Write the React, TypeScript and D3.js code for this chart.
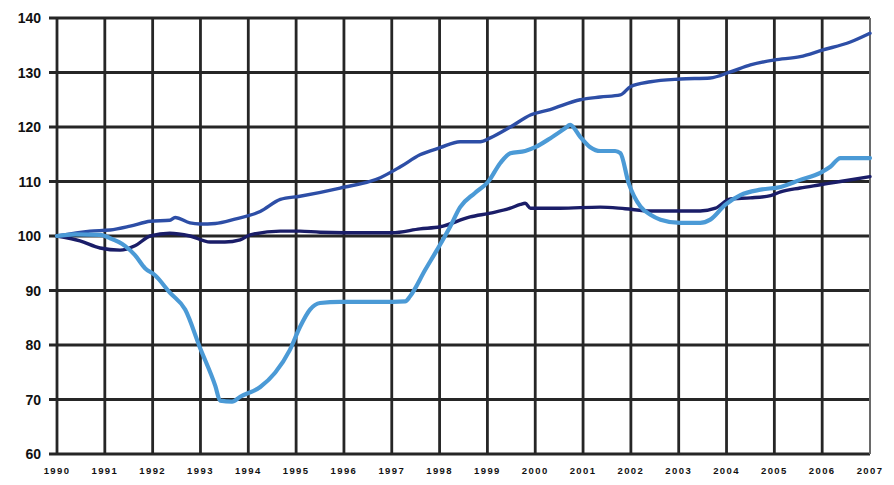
import React from "react";
import * as d3 from "d3";

// Index values (1990 = 100), sampled as decimal years
const yearTicks = d3.range(1990, 2008);
const valueTicks = [60, 70, 80, 90, 100, 110, 120, 130, 140];

const navyYears = [1990.0, 1990.48, 1990.9, 1991.32, 1991.63, 1991.95, 1992.36, 1992.78, 1993.2, 1993.51, 1993.83, 1994.04, 1994.67, 1995.08, 1995.5, 1996.5, 1997.0, 1997.59, 1998.01, 1998.64, 1999.06, 1999.48, 1999.69, 1999.79, 1999.9, 2000.52, 2001.36, 2001.88, 2002.41, 2003.45, 2003.77, 2004.08, 2004.5, 2004.92, 2005.13, 2005.54, 2005.96, 2006.38, 2007.0];
const navyValues = [100, 99.1, 97.8, 97.4, 98.2, 100, 100.5, 100, 98.9, 98.9, 99.3, 100.2, 100.9, 100.9, 100.7, 100.6, 100.6, 101.3, 101.7, 103.5, 104.2, 105.1, 105.8, 106, 105.1, 105.1, 105.3, 105.0, 104.6, 104.6, 105.1, 106.8, 107, 107.4, 108.1, 108.8, 109.4, 110, 110.9];

const mediumYears = [1990.0, 1990.69, 1991.11, 1991.53, 1991.95, 1992.36, 1992.47, 1992.78, 1992.99, 1993.31, 1993.72, 1994.25, 1994.67, 1995.08, 1995.92, 1996.76, 1997.18, 1997.59, 1998.01, 1998.43, 1998.85, 1999.06, 1999.48, 1999.9, 2000.31, 2000.94, 2001.36, 2001.78, 2001.99, 2002.41, 2003.03, 2003.66, 2004.08, 2004.5, 2005.0, 2005.54, 2006.0, 2006.59, 2007.0];
const mediumValues = [100, 100.9, 101.1, 101.8, 102.7, 102.9, 103.4, 102.4, 102.2, 102.3, 103.1, 104.5, 106.7, 107.3, 108.8, 110.7, 112.7, 114.9, 116.2, 117.3, 117.3, 118, 120, 122.2, 123.2, 125, 125.5, 125.9, 127.4, 128.3, 128.8, 129, 130.1, 131.4, 132.3, 132.9, 134.1, 135.6, 137.2];

const lightYears = [1990.0, 1990.38, 1990.9, 1991.11, 1991.42, 1991.63, 1991.84, 1992.05, 1992.36, 1992.68, 1992.99, 1993.31, 1993.41, 1993.66, 1993.83, 1994.25, 1994.56, 1994.87, 1995.08, 1995.29, 1995.5, 1995.92, 1996.76, 1997.28, 1997.38, 1997.7, 1997.95, 1998.22, 1998.43, 1998.74, 1999.02, 1999.27, 1999.48, 1999.79, 2000.0, 2000.31, 2000.63, 2000.73, 2000.94, 2001.15, 2001.36, 2001.67, 2001.78, 2001.95, 2002.2, 2002.41, 2002.62, 2003.03, 2003.45, 2003.66, 2003.97, 2004.29, 2004.71, 2005.13, 2005.54, 2005.96, 2006.17, 2006.38, 2007.0];
const lightValues = [100, 100.3, 100.2, 99.6, 98.2, 96.5, 94.1, 92.8, 89.6, 86.5, 79.5, 72.5, 69.8, 69.6, 70.5, 72.3, 74.9, 79.1, 83.3, 86.5, 87.7, 87.9, 87.9, 88, 88.9, 93.8, 97.5, 101.7, 105.3, 107.9, 110, 113.4, 115.2, 115.6, 116.3, 117.9, 119.8, 120.4, 118.2, 116.3, 115.6, 115.6, 115.2, 109.8, 105.4, 103.9, 103, 102.4, 102.4, 103, 105.7, 107.5, 108.5, 109, 110.3, 111.6, 112.7, 114.3, 114.3];

const W = 894;
const H = 485;
const left = 57;
const right = 870;
const top = 18;
const bottom = 454;

const x = d3.scaleLinear().domain([1990, 2007]).range([left, right]);
const y = d3.scaleLinear().domain([60, 140]).range([bottom, top]);

const line = d3
  .line<[number, number]>()
  .x((d) => x(d[0]))
  .y((d) => y(d[1]))
  .curve(d3.curveMonotoneX);

const zip = (a: number[], b: number[]) => a.map((v, i) => [v, b[i]] as [number, number]);

const series = [
  { name: "medium", years: mediumYears, values: mediumValues, color: "#2d4ea6", width: 3.4 },
  { name: "navy", years: navyYears, values: navyValues, color: "#1a1d68", width: 3.4 },
  { name: "light", years: lightYears, values: lightValues, color: "#4b9ad6", width: 4.2 },
];

export default function App() {
  return (
    <svg
      width={W}
      height={H}
      style={{ position: "absolute", left: 0, top: 0, background: "#fff" }}
      fontFamily="'Liberation Sans', Arial, sans-serif"
    >
      <rect x={0} y={0} width={W} height={H} fill="#fff" />
      {/* horizontal grid with short ticks left of the axis */}
      {valueTicks.map((v) => (
        <line key={"h" + v} x1={left - 8} x2={right} y1={y(v)} y2={y(v)} stroke="#262626" strokeWidth={2.8} />
      ))}
      {/* vertical grid */}
      {yearTicks.map((t) => (
        <line
          key={"v" + t}
          x1={x(t)}
          x2={x(t)}
          y1={top}
          y2={bottom}
          stroke={t === 2007 ? "#6a6a6a" : "#262626"}
          strokeWidth={t === 2007 ? 2 : 2.8}
        />
      ))}
      {/* y labels */}
      {valueTicks.map((v) => (
        <text
          key={"yl" + v}
          x={41}
          y={y(v)}
          dy="0.36em"
          textAnchor="end"
          fontSize={14}
          fontWeight={700}
          fill="#111"
        >
          {v}
        </text>
      ))}
      {/* x labels */}
      {yearTicks.map((t) => (
        <text
          key={"xl" + t}
          x={x(t)}
          y={471}
          dy="0.35em"
          textAnchor="middle"
          fontSize={9.5}
          fontWeight={700}
          letterSpacing={1.4}
          fill="#111"
        >
          {t}
        </text>
      ))}
      {series.map((s) => (
        <path
          key={s.name}
          d={line(zip(s.years, s.values)) || ""}
          fill="none"
          stroke={s.color}
          strokeWidth={s.width}
          strokeLinejoin="round"
          strokeLinecap="round"
        />
      ))}
    </svg>
  );
}
